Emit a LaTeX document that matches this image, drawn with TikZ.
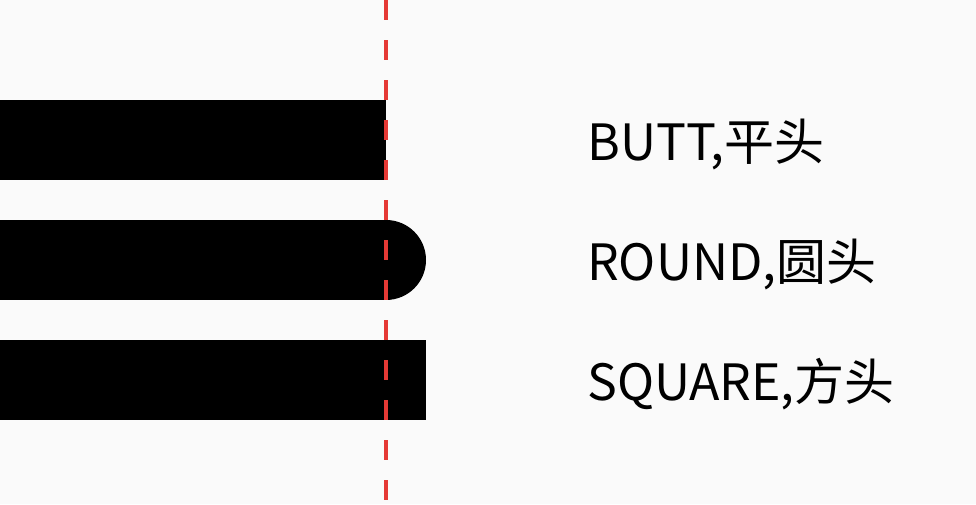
\documentclass[tikz,border=0pt]{standalone}
\usepackage{fontspec}
\setmainfont{Noto Sans CJK SC}
\definecolor{guide}{RGB}{229,57,53}
\definecolor{paper}{RGB}{250,250,250}
\tikzset{capline/.style={line width=80pt, black},
  caplabel/.style={anchor=base west, inner sep=0pt, font=\fontsize{50}{50}\selectfont}}
\begin{document}
\begin{tikzpicture}[x=1pt, y=-1pt]
  \fill[paper] (0,0) rectangle (976,504);
  \useasboundingbox (0,0) rectangle (976,504);
  % the three strokes, same end point
  \draw[capline, line cap=butt] (-50,140) -- (386,140);
  \draw[capline, line cap=round] (-50,260) -- (386,260);
  \draw[capline, line cap=rect] (-50,380) -- (386,380);
  % guide at the end point
  \coordinate (top) at (386,0);
  \coordinate (bottom) at (386,504);
  \draw[guide, line width=4pt, dash pattern=on 20pt off 20pt] (top) -- (bottom);
  \node[caplabel] (butt) at (587,160) {BUTT,平头};
  \node[caplabel] (round) at (587,280) {ROUND,圆头};
  \node[caplabel] (square) at (587,400) {SQUARE,方头};
\end{tikzpicture}
\end{document}
